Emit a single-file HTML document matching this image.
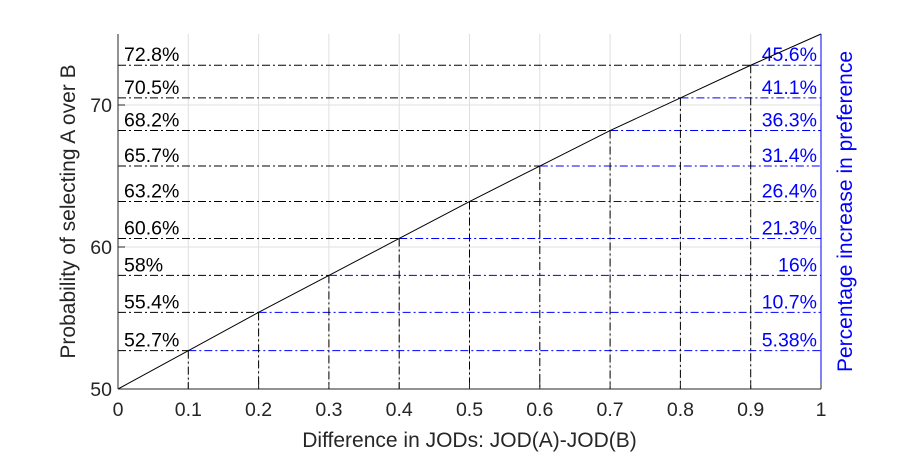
<!DOCTYPE html>
<html><head><meta charset="utf-8"><style>
body{margin:0;background:#fff;}
svg text{font-family:"Liberation Sans",Arial,sans-serif;}
</style></head><body>
<svg id="c" width="907" height="454" xmlns="http://www.w3.org/2000/svg"></svg>
<script>
const xs=[0.1,0.2,0.3,0.4,0.5,0.6,0.7,0.8,0.9];
const probs=[52.7,55.4,58,60.6,63.2,65.7,68.2,70.5,72.8];
const probLabels=["52.7%","55.4%","58%","60.6%","63.2%","65.7%","68.2%","70.5%","72.8%"];
const incLabels=["5.38%","10.7%","16%","21.3%","26.4%","31.4%","36.3%","41.1%","45.6%"];
const curveX=[0,0.1,0.2,0.3,0.4,0.5,0.6,0.7,0.8,0.9,1];
const curveY=[50,52.7,55.4,58,60.6,63.2,65.7,68.2,70.5,72.8,75];
const xTicks=[0,0.1,0.2,0.3,0.4,0.5,0.6,0.7,0.8,0.9,1];
const xTickLabels=["0","0.1","0.2","0.3","0.4","0.5","0.6","0.7","0.8","0.9","1"];
const yTicks=[50,60,70];
const L=118,R=821,T=34,B=389;
const X=v=>L+v*(R-L);
const Y=v=>B-(v-50)/25*(B-T);
const s=document.getElementById('c');
const NS="http://www.w3.org/2000/svg";
const FS=19.5, TS=21;
function el(t,a,txt){const e=document.createElementNS(NS,t);for(const k in a)e.setAttribute(k,a[k]);if(txt!==undefined)e.textContent=txt;s.appendChild(e);return e;}
xTicks.forEach((v,i)=>{const e=el('line',{x1:X(v),x2:X(v),y1:T,y2:B,stroke:'#dfdfdf','stroke-width':1});
});
yTicks.forEach(v=>{const e=el('line',{x1:L,x2:R,y1:Y(v),y2:Y(v),stroke:'#dfdfdf','stroke-width':1});
});
const dash='8 3 2 3';
xs.forEach((v,i)=>{
 const y=Y(probs[i]),x=X(v);
 let e=el('line',{x1:L,x2:x,y1:y,y2:y,stroke:'#000','stroke-width':1,'stroke-dasharray':dash});
 
 e=el('line',{x1:x,x2:R,y1:y,y2:y,stroke:'#0000ff','stroke-width':1,'stroke-dasharray':dash});
 
 e=el('line',{x1:x,x2:x,y1:y,y2:B,stroke:'#000','stroke-width':1,'stroke-dasharray':dash});
 
 e=el('text',{x:L+6,y:y-4,'font-size':FS,fill:'#000'},probLabels[i]);
 
 e=el('text',{x:R-4,y:y-4,'font-size':FS,fill:'#0000ff','text-anchor':'end'},incLabels[i]);
 
});
let p=el('polyline',{points:curveX.map((v,i)=>X(v)+','+Y(curveY[i])).join(' '),fill:'none',stroke:'#000','stroke-width':1});

let a=el('line',{x1:L,x2:R,y1:B,y2:B,stroke:'#262626','stroke-width':1});

a=el('line',{x1:L,x2:L,y1:T,y2:B,stroke:'#262626','stroke-width':1});

a=el('line',{x1:R,x2:R,y1:T,y2:B,stroke:'#0000ff','stroke-width':1});

xTicks.forEach((v,i)=>{let e=el('line',{x1:X(v),x2:X(v),y1:B,y2:B-7,stroke:'#262626'});

e=el('text',{x:X(v),y:B+27,'font-size':FS,'text-anchor':'middle',fill:'#262626'},xTickLabels[i]);
});
yTicks.forEach(v=>{let e=el('line',{x1:L,x2:L+7,y1:Y(v),y2:Y(v),stroke:'#262626'});

e=el('text',{x:L-6,y:Y(v)+7,'font-size':FS,'text-anchor':'end',fill:'#262626'},String(v));
});
let t=el('text',{x:(L+R)/2,y:447,'font-size':TS,'text-anchor':'middle',fill:'#262626'},'Difference in JODs: JOD(A)-JOD(B)');

t=el('text',{x:0,y:0,'font-size':TS,'text-anchor':'middle',fill:'#262626',transform:'translate(75,'+((T+B)/2)+') rotate(-90)'},'Probability of selecting A over B');

t=el('text',{x:0,y:0,'font-size':TS,'text-anchor':'middle',fill:'#0000ff',transform:'translate(852,'+((T+B)/2)+') rotate(-90)'},'Percentage increase in preference');

</script>
</body></html>
